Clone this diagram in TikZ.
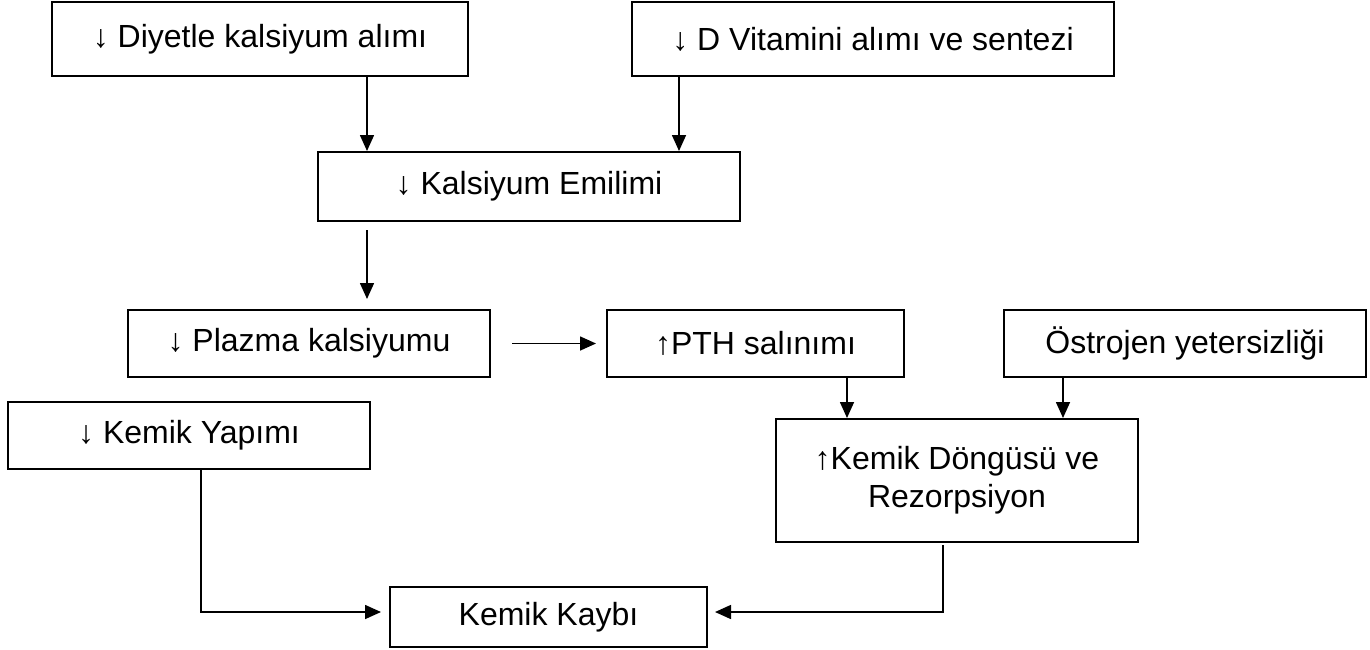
\documentclass[tikz,border=0pt]{standalone}
\usepackage{fontspec}
\setmainfont{Liberation Sans}
\usetikzlibrary{arrows.meta,calc}

\begin{document}
\begin{tikzpicture}[x=0.5pt, y=-0.5pt,
  kutu/.style={draw=black, line width=1pt, inner sep=2pt, align=center, font=\fontsize{16}{19}\selectfont, minimum height=33.5pt},
  ok/.style={draw=black, line width=0.8pt, -{Triangle[length=8pt,width=7pt]}}]
\useasboundingbox (0, 0) rectangle (1370, 649);
\node[kutu, minimum width=208pt, minimum height=37pt] (diyet) at (260, 39) {↓ Diyetle kalsiyum alımı};
\node[kutu, minimum width=241pt, minimum height=37pt] (vitd) at (873, 39) {↓ D Vitamini alımı ve sentezi};
\node[kutu, minimum width=211pt, minimum height=34.5pt] (emilim) at (529, 186.5) {↓ Kalsiyum Emilimi};
\node[kutu, minimum width=181pt] (plazma) at (309, 343.5) {↓ Plazma kalsiyumu};
\node[kutu, minimum width=148.5pt] (pth) at (755.5, 343.5) {↑PTH salınımı};
\node[kutu, minimum width=181pt] (ostrojen) at (1185, 343.5) {Östrojen yetersizliği};
\node[kutu, minimum width=181pt] (yapim) at (189, 435.5) {↓ Kemik Yapımı};
\node[kutu, minimum width=181pt, minimum height=61.5pt] (dongu) at (957, 480.5) {↑Kemik Döngüsü ve\\Rezorpsiyon};
\node[kutu, minimum width=158.5pt, minimum height=30pt] (kayip) at (548.5, 617) {Kemik Kaybı};
\draw[ok] ($(diyet.south west)+(316, 0)$) coordinate (d1) -- (d1 |- emilim.north);
\draw[ok] ($(vitd.south west)+(48, 0)$) coordinate (v1) -- (v1 |- emilim.north);
\draw[ok, shorten <=4pt, shorten >=5pt] ($(emilim.south west)+(50, 0)$) coordinate (e1) -- (e1 |- plazma.north);
\draw[ok, shorten <=10.5pt, shorten >=5pt] (plazma.east) -- (pth.west);
\draw[ok] ($(pth.south west)+(241, 0)$) coordinate (p1) -- (p1 |- dongu.north);
\draw[ok] ($(ostrojen.south west)+(60, 0)$) coordinate (o1) -- (o1 |- dongu.north);
\draw[ok, shorten >=4pt] ($(yapim.south west)+(194, 0)$) |- ($(kayip.west)+(0, -5)$);
\draw[ok, shorten <=1pt, shorten >=3.5pt] ($(dongu.south west)+(168, 0)$) |- ($(kayip.east)+(0, -5)$);
\end{tikzpicture}
\end{document}
